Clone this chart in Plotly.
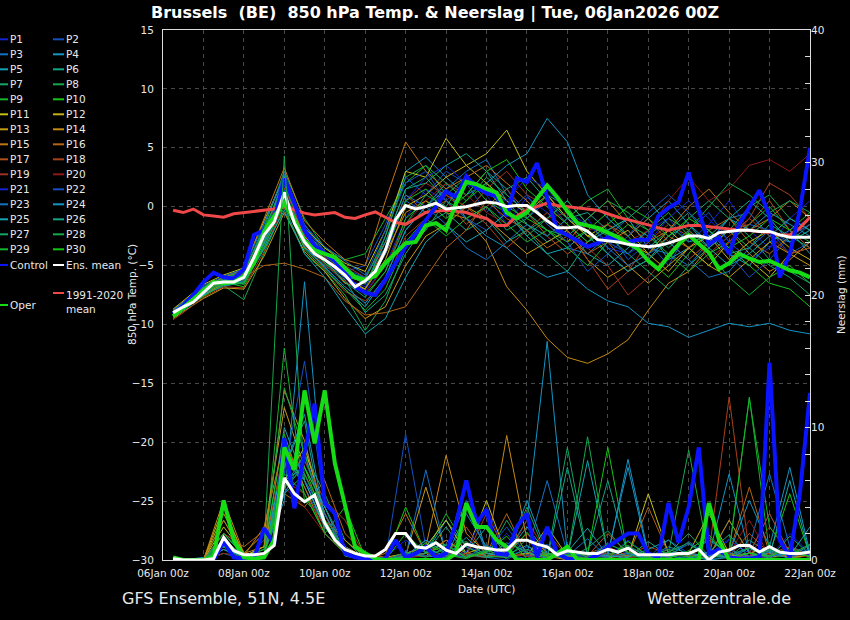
import pandas as pd
import plotly.graph_objects as go

run = pd.Timestamp("2026-01-06 00:00")

# forecast steps: 6-hourly for the highlighted lines, 12-hourly for the members
hours_6h = list(range(6, 385, 6))
hours_12h = [6] + list(range(12, 385, 12))
t6 = [run + pd.Timedelta(hours=h) for h in hours_6h]
t12 = [run + pd.Timedelta(hours=h) for h in hours_12h]

# --- 850 hPa temperature (deg C), 6-hourly ---
ens_mean_t = [-9.0, -8.5, -8.1, -7.3, -6.5, -6.4, -6.4, -6.0,
              -4.3, -2.4, -1.3, 1.2, -1.4, -3.0, -4.0, -4.5,
              -5.1, -5.8, -6.8, -6.3, -5.5, -3.7, -1.1, 0.1,
              -0.2, 0.0, 0.3, -0.2, -0.1, 0.0, 0.2, 0.4,
              0.3, 0.0, 0.1, 0.1, -0.5, -1.2, -1.8, -1.8,
              -1.7, -2.1, -2.8, -2.9, -3.0, -3.2, -3.3, -3.4,
              -3.3, -3.1, -2.8, -2.5, -2.5, -2.7, -2.2, -2.1,
              -2.0, -2.0, -2.1, -2.1, -2.4, -2.6, -2.6, -2.6]
control_t = [-9.1, -8.4, -7.5, -6.4, -5.6, -6.0, -6.1, -5.3,
             -2.4, -2.0, -1.2, 2.4, 0.3, -2.0, -3.3, -4.0,
             -4.6, -5.6, -6.8, -7.3, -7.5, -6.2, -4.8, -3.4,
             -2.3, -1.2, 0.0, 1.3, 0.8, 2.6, 1.6, 1.2,
             0.9, -0.8, 2.4, 2.1, 3.7, 0.8, -2.0, -2.4,
             -2.9, -3.4, -3.1, -2.6, -2.9, -3.0, -2.8, -2.8,
             -0.8, -0.1, 0.4, 2.9, -0.3, -3.2, -2.6, -4.0,
             -1.5, 0.0, 1.4, -0.8, -6.0, -4.0, -0.3, 5.0]
oper_t = [-9.3, -8.6, -7.9, -7.1, -6.4, -6.5, -6.4, -5.9,
          -4.8, -2.1, -0.8, 0.3, -1.2, -2.9, -3.7, -4.0,
          -4.3, -5.2, -6.0, -6.2, -5.9, -4.8, -4.0, -3.1,
          -3.0, -1.6, -1.4, -2.0, 0.3, 2.1, 1.9, 1.5,
          1.2, -0.5, -1.0, -0.5, 0.7, 1.8, 0.8, -0.4,
          -1.4, -1.6, -1.8, -2.2, -2.6, -3.1, -3.6, -4.6,
          -5.3, -4.2, -3.2, -2.4, -3.2, -3.9, -5.3, -4.8,
          -4.0, -4.4, -4.7, -4.6, -5.0, -5.4, -5.6, -6.0]
clim_t = [-0.3, -0.5, -0.2, -0.7, -0.8, -0.9, -0.6, -0.5,
          -0.4, -0.35, -0.2, 0.0, -0.3, -0.55, -0.7, -0.6,
          -0.5, -0.9, -1.0, -0.7, -0.45, -0.9, -1.35, -1.5,
          -1.0, -0.5, -0.4, -0.3, -0.4, -0.5, -0.8, -1.0,
          -1.6, -1.6, -0.8, -0.3, 0.0, 0.3, 0.1, 0.0,
          -0.1, -0.2, -0.3, -0.6, -0.9, -1.1, -1.3, -1.55,
          -1.8, -2.0, -1.8, -1.6, -1.6, -1.7, -1.85, -1.9,
          -1.95, -2.05, -2.15, -2.2, -2.4, -2.4, -1.8, -0.9]

# --- precipitation (mm), 6-hourly ---
ens_mean_p = [0.1, 0.0, 0.0, 0.0, 0.1, 1.7, 0.7, 0.4,
              0.4, 0.5, 1.1, 6.2, 5.0, 4.4, 4.9, 2.8,
              1.5, 0.8, 0.5, 0.3, 0.3, 0.8, 2.0, 2.0,
              1.0, 0.9, 1.3, 0.75, 0.5, 1.2, 1.0, 0.9,
              0.75, 0.75, 1.5, 1.5, 1.2, 1.0, 0.4, 0.7,
              0.6, 0.5, 0.5, 0.8, 0.6, 0.9, 0.4, 0.4,
              0.4, 0.4, 0.5, 0.5, 0.8, 0.0, 0.6, 0.75,
              1.1, 1.1, 0.6, 1.0, 0.6, 0.5, 0.5, 0.6]
control_p = [0, 0, 0, 0, 0, 1.4, 0.2, 0.1,
             0.1, 2.4, 1.2, 9.2, 3.9, 8.1, 11.8, 4.3,
             3.5, 0.5, 0.2, 0.1, 0.0, 0.1, 1.5, 0.2,
             0.5, 1.0, 0.2, 0.5, 2.8, 6.0, 2.8, 3.8,
             0.5, 0.4, 2.5, 3.5, 0.2, 2.5, 0.5, 0.1,
             0.0, 0.0, 0.4, 1.0, 1.5, 2.0, 2.0, 0.5,
             0.2, 4.3, 1.3, 4.0, 8.5, 0.5, 0.75, 0.2,
             0.1, 0.1, 0.2, 14.9, 1.5, 0.2, 5.0, 12.6]
oper_p = [0.2, 0, 0, 0, 0.2, 4.5, 1.5, 0.2,
          0.1, 0.2, 1.5, 8.5, 6.8, 12.8, 8.8, 12.8,
          7.3, 4.0, 1.0, 0.5, 0.1, 0, 0, 0,
          0, 0, 0, 0, 0.5, 4.3, 2.5, 2.5,
          1.5, 1.0, 0, 0, 0, 0, 0.5, 1.0,
          0, 0, 0, 0, 0, 0, 0, 0,
          0, 0, 0, 0, 0, 4.3, 1.5, 0,
          0, 0, 0, 0, 0, 0, 0, 0]

# --- members P1..P30, 12-hourly: temperature ---
p01_t = [-9.1, -8.4, -7.0, -6.2, -5.6, -2.0, 1.8, -2.6, -4.2, -6.0, -7.2, -5.0, -1.0, 1.5, 0.5, 2.0, 1.0,
         -1.5, 0.8, -0.5, -2.5, -1.0, -3.5, -4.0, -2.0, -1.0, -3.0, -1.5, 0.5, -2.0, -3.5, -1.0, 0.5]
p02_t = [-9.0, -8.6, -7.4, -6.8, -6.3, -3.0, 2.4, -2.0, -4.0, -5.5, -5.0, -1.5, 2.5, 1.0, 3.0, 2.0, -0.5,
         1.5, -1.0, 0.5, -1.5, -3.0, -2.0, -4.5, -3.0, -5.0, -2.0, -0.5, -3.0, -1.5, -2.0, -4.0, -3.0]
p03_t = [-8.8, -8.2, -6.8, -6.0, -5.8, -1.5, 2.6, -1.5, -3.8, -5.2, -6.5, -4.0, 0.5, -0.5, 1.5, 3.0, 4.0,
         1.0, -0.5, -2.0, -3.5, -4.0, -2.5, -1.0, -3.5, -4.0, -5.0, -3.0, -1.0, -0.5, -2.5, -3.0, -1.5]
p04_t = [-9.2, -8.5, -7.2, -6.1, -5.4, -2.2, 2.0, -2.8, -4.8, -6.5, -7.0, -2.5, 3.0, 4.2, 2.5, 1.0, 2.0,
         3.5, 4.5, 7.5, 5.5, 1.0, -1.0, -2.5, -1.0, 0.5, -1.5, -3.0, -1.0, -2.0, -0.5, -1.5, -2.5]
p05_t = [-8.9, -8.3, -7.5, -6.6, -6.4, -3.5, 0.5, -3.5, -5.2, -7.0, -8.5, -6.0, -2.0, 0.0, 2.0, 1.0, 3.0,
         0.5, -1.5, -3.0, -2.0, -4.0, -5.0, -3.5, -2.0, -4.5, -3.5, -2.0, -4.0, -5.0, -3.0, -2.0, -4.0]
p06_t = [-9.3, -8.8, -7.6, -6.5, -6.2, -2.8, 1.0, -3.2, -5.0, -6.2, -9.0, -7.5, -4.0, -1.5, -0.5, -2.0, -1.0,
         -3.0, -2.0, -4.0, -5.5, -3.0, -2.0, -1.0, -3.5, -2.0, -0.5, -2.5, -4.0, -3.5, -1.5, -2.5, -3.5]
p07_t = [-9.0, -8.2, -7.1, -6.3, -6.6, -2.5, 1.5, -2.0, -4.0, -5.6, -6.0, -3.0, 1.5, 2.5, 0.5, -1.0, 0.0,
         -2.0, -1.0, 1.0, 0.0, -2.5, -4.0, -5.5, -4.5, -3.0, -1.0, 0.5, -1.0, -2.5, -4.5, -5.5, -6.5]
p08_t = [-9.4, -8.7, -7.4, -6.7, -7.9, -4.0, 0.0, -4.0, -5.5, -7.5, -10.5, -8.0, -3.5, -2.0, 0.5, -0.5, 1.5,
         0.0, -2.5, -1.0, 0.5, -1.5, -3.0, -4.0, -2.5, -1.0, -2.0, -3.5, -2.0, 0.0, 1.0, -1.0, -2.0]
p09_t = [-9.1, -8.4, -7.0, -6.0, -5.5, -1.8, 3.0, -1.0, -3.5, -4.5, -4.0, -1.0, 2.0, 3.5, 1.0, 2.5, 0.5,
         -0.5, -1.5, -2.5, -1.0, 0.5, 1.5, -1.0, -2.0, -0.5, -2.5, -4.0, -3.0, -1.5, 0.0, -2.0, -3.0]
p10_t = [-9.2, -8.5, -7.3, -6.4, -6.8, -3.2, 0.8, -3.0, -4.8, -6.0, -7.5, -5.5, -1.0, 0.5, -1.0, 0.5, 2.0,
         0.0, -1.0, -2.0, -3.0, -2.0, -0.5, -2.5, -4.5, -6.0, -4.0, -2.0, -3.5, -5.0, -6.5, -7.0, -8.5]
p11_t = [-8.7, -8.0, -6.6, -5.8, -5.2, -1.2, 2.5, -1.8, -3.5, -4.8, -5.5, -2.0, 3.0, 2.5, 5.8, 3.5, 4.5,
         6.5, 3.0, 1.0, -1.0, -2.5, -1.5, -3.0, -4.0, -2.0, -3.5, -5.0, -3.0, -4.5, -6.0, -4.0, -3.5]
p12_t = [-9.0, -8.3, -7.2, -6.3, -6.0, -2.6, 1.2, -2.5, -4.5, -6.0, -7.0, -4.5, 0.0, 1.0, 2.5, 3.5, 2.0,
         0.5, -0.5, 1.0, -1.0, -2.5, -3.0, -2.0, -4.0, -5.5, -3.5, -2.5, -4.5, -3.0, -2.0, -3.5, -4.5]
p13_t = [-9.5, -8.9, -7.8, -6.9, -7.0, -4.2, -0.5, -3.8, -5.5, -7.8, -9.5, -8.5, -5.0, -2.5, -1.5, 0.0, -1.0,
         -2.5, -4.0, -3.0, -2.0, -4.5, -6.0, -5.0, -6.5, -5.0, -3.5, -5.0, -6.0, -4.5, -3.0, -4.0, -5.0]
p14_t = [-9.0, -8.4, -7.5, -6.5, -6.2, -3.0, 1.0, -3.5, -4.5, -6.5, -7.0, -4.0, -0.5, 0.5, -0.5, -1.0, -3.0,
         -6.8, -8.8, -11.2, -12.8, -13.3, -12.5, -11.3, -8.8, -6.5, -5.5, -3.5, -2.0, -4.0, -5.5, -4.5, -3.0]
p15_t = [-8.8, -8.1, -6.9, -6.0, -5.3, -1.0, 3.3, -1.2, -3.0, -4.5, -5.0, 0.5, 5.5, 3.0, 1.5, 2.5, 3.5,
         2.0, 0.5, -1.5, -3.0, -1.0, 0.5, -1.5, -3.0, -2.0, 0.0, 1.5, -0.5, -2.0, -1.0, 0.5, -1.0]
p16_t = [-9.2, -8.6, -7.6, -6.6, -6.0, -5.0, -4.8, -5.3, -6.0, -8.0, -9.2, -9.0, -8.5, -6.0, -3.5, -2.0, 0.5,
         -1.0, -2.0, -3.5, -2.5, -4.0, -3.0, -5.0, -4.0, -2.5, -3.5, -2.0, -1.0, -3.0, -4.0, -2.5, -1.5]
p17_t = [-9.1, -8.5, -7.2, -6.2, -5.7, -2.3, 2.2, -2.2, -4.0, -5.8, -6.5, -3.5, 1.0, -0.5, 0.5, -1.5, 0.0,
         1.5, -0.5, -2.5, -4.0, -3.0, -1.5, -2.5, -1.0, -3.0, -4.5, -3.0, -2.0, -1.5, 0.5, -2.0, -3.5]
p18_t = [-9.6, -9.0, -7.7, -6.8, -6.9, -3.8, 0.3, -3.3, -5.3, -7.2, -8.0, -6.5, -2.5, -1.0, 1.0, 0.0, -1.5,
         -3.5, -2.0, -0.5, -2.0, -4.5, -7.0, -5.5, -3.0, -1.5, -2.5, -4.0, -2.5, -1.0, 2.0, 1.0, -1.0]
p19_t = [-8.9, -8.3, -7.0, -6.1, -5.9, -2.0, 1.6, -2.4, -4.3, -5.0, -6.0, -3.0, 0.5, 2.0, 1.0, -0.5, 1.5,
         3.0, 1.0, 0.0, -1.5, -3.5, -5.0, -7.5, -6.0, -4.0, -2.0, -4.5, -3.0, -1.0, -2.5, -4.0, -3.5]
p20_t = [-9.3, -8.7, -7.4, -6.4, -6.1, -2.9, 0.8, -3.1, -4.9, -6.3, -7.4, -5.0, -1.5, 0.5, 2.0, 1.0, -0.5,
         -1.5, 0.0, -1.0, -0.5, -2.0, -1.5, -3.0, -2.0, 0.5, 2.5, 0.5, 1.5, 3.5, 4.0, 3.0, 4.5]
p21_t = [-9.0, -8.4, -7.1, -6.3, -5.8, -2.5, 1.4, -2.9, -4.6, -6.1, -6.8, -4.0, 0.5, 2.5, 3.5, 2.0, 1.0,
         0.5, 2.5, 1.5, -0.5, -1.5, -3.0, -4.0, -3.0, -1.0, 0.5, -1.0, -3.0, -4.5, -3.5, -2.0, -1.0]
p22_t = [-9.2, -8.6, -7.3, -6.5, -6.3, -2.7, 2.9, -1.8, -3.8, -5.3, -6.0, -2.0, 2.0, 3.0, 0.5, -1.0, -2.0,
         -0.5, 1.0, -1.5, -3.0, -5.5, -4.0, -2.5, -0.5, 1.0, -0.5, -2.0, -4.0, -6.0, -4.5, -2.5, -1.5]
p23_t = [-8.8, -8.1, -6.7, -5.9, -5.3, -1.4, 2.7, -1.6, -3.4, -4.6, -5.8, -3.5, 1.0, 0.0, -1.5, -3.5, -4.5,
         -3.0, -1.5, -2.5, -1.0, -2.0, -3.5, -5.0, -4.0, -3.0, -4.5, -6.0, -5.5, -3.5, -2.0, -3.0, -2.0]
p24_t = [-9.1, -8.5, -7.4, -6.4, -6.1, -3.1, 0.6, -3.4, -5.1, -6.8, -8.2, -6.0, -2.0, 0.0, 1.5, -1.0, -2.5,
         -3.5, -5.0, -6.0, -5.5, -7.0, -8.0, -8.5, -9.9, -10.2, -11.1, -10.5, -9.9, -10.2, -9.9, -10.5, -10.8]
p25_t = [-9.4, -8.8, -7.5, -6.7, -6.5, -3.6, -0.3, -4.0, -6.0, -8.5, -10.8, -9.5, -6.0, -3.0, -1.5, -3.0, -2.0,
         -0.5, -2.5, -4.0, -3.5, -2.0, -4.0, -5.5, -4.5, -2.5, -1.5, -3.5, -5.0, -4.0, -2.5, -1.0, -2.0]
p26_t = [-9.0, -8.3, -7.1, -6.2, -6.0, -2.1, 2.3, -2.3, -4.1, -5.6, -6.6, -3.0, 1.5, 2.0, 3.5, 4.5, 3.0,
         1.5, 2.5, 0.5, -1.0, -0.5, -2.0, -1.0, 0.5, -1.5, -3.0, -2.5, -1.0, 0.5, -1.0, -3.0, -2.0]
p27_t = [-9.2, -8.6, -7.3, -6.5, -6.4, -2.9, 1.1, -2.7, -4.6, -6.4, -7.7, -5.5, -1.5, 1.0, 0.0, 2.5, 1.5,
         -0.5, -2.0, -1.0, 0.5, -1.5, -2.5, -4.0, -5.5, -7.0, -5.0, -3.5, -2.0, -3.5, -5.0, -6.0, -7.5]
p28_t = [-8.9, -8.2, -6.9, -6.1, -5.6, -1.9, 1.9, -2.1, -3.9, -5.4, -6.2, -2.5, 2.5, 3.5, 2.0, 0.5, 2.5,
         1.0, -0.5, -2.0, -2.5, -1.0, 0.5, -0.5, -2.0, -3.5, -2.0, 0.0, 2.0, 1.0, -0.5, 0.5, -0.5]
p29_t = [-9.3, -8.7, -7.6, -6.6, -6.5, -3.4, 0.4, -3.6, -5.4, -7.0, -8.8, -7.0, -3.0, -1.0, -2.5, -1.0, 0.0,
         -1.5, -3.0, -2.0, -3.5, -5.0, -3.0, -1.5, -2.5, -4.0, -5.5, -4.0, -6.0, -7.5, -6.0, -5.0, -6.5]
p30_t = [-9.0, -8.4, -7.2, -6.3, -5.9, -2.4, 1.3, -2.8, -4.4, -5.9, -6.4, -3.8, 0.5, 1.5, -0.5, 1.0, 3.0,
         4.0, 1.5, 0.0, -1.5, -3.0, -1.5, 0.0, -1.0, -2.5, -1.0, -2.0, -3.5, -2.5, -1.0, -2.0, -0.5]

# --- members P1..P30, 12-hourly: precipitation ---
p01_p = [0, 0, 0, 1.0, 0.2, 0.5, 6.5, 9.0, 3.0, 0.5, 0, 0.2, 1.5, 0.5, 0.2, 1.0, 0.5,
         2.0, 0.3, 0, 0.5, 0, 0.2, 1.5, 0.3, 0, 0.5, 0.2, 1.5, 0.5, 0.2, 2.0, 0.5]
p02_p = [0, 0, 0, 0.5, 0, 1.5, 5.0, 7.5, 4.0, 1.0, 0.1, 0, 9.5, 1.0, 3.0, 0.5, 0.2,
         0, 1.0, 0.5, 0, 0.3, 1.0, 0, 0.2, 1.5, 0.5, 0, 0.3, 0.5, 3.5, 0.5, 0.2]
p03_p = [0, 0, 0, 2.0, 0.5, 0.2, 8.0, 5.5, 2.5, 0.5, 0, 0, 0.3, 1.5, 0.5, 4.5, 0.5,
         0.2, 0.5, 6.0, 0.5, 0.2, 0, 1.0, 0.3, 0, 0.2, 0.5, 0.2, 1.0, 6.5, 1.0, 0.5]
p04_p = [0, 0, 0.2, 1.5, 0.3, 0.5, 4.5, 21.0, 4.0, 1.0, 0.2, 0, 0.5, 0.3, 0.2, 3.5, 1.0,
         0.5, 3.0, 16.5, 0.5, 0.2, 0.5, 7.0, 0.3, 0.2, 0.5, 1.5, 0.5, 4.5, 1.0, 7.0, 0.5]
p05_p = [0, 0, 0, 0.8, 0, 0.3, 10.0, 6.0, 3.5, 0.3, 0, 0, 0.2, 0.5, 3.0, 1.0, 0.3,
         0.5, 2.5, 0.5, 0.2, 7.5, 0.5, 0, 0.2, 0.5, 0.3, 0, 0.2, 0.5, 1.0, 0.3, 2.5]
p06_p = [0, 0, 0, 1.2, 0.2, 0.8, 7.0, 10.5, 2.0, 0.5, 0, 0.1, 0.3, 0.5, 0.2, 0.5, 2.5,
         0.3, 0, 0.5, 0.2, 0.5, 6.0, 0.3, 0.2, 1.0, 0.5, 0.2, 3.0, 0.5, 0.3, 0.5, 0.2]
p07_p = [0, 0, 0, 1.0, 0.3, 0.5, 5.5, 8.0, 5.0, 1.5, 0, 0, 0.2, 0.3, 1.5, 0.5, 0.2,
         3.0, 0.5, 0.2, 8.5, 0.3, 0.5, 0.2, 0.3, 0.5, 2.0, 0.3, 0.2, 1.5, 0.5, 0.2, 0.3]
p08_p = [0, 0, 0, 0.5, 0.2, 1.0, 30.5, 6.0, 2.5, 0.5, 0, 0, 0.2, 0.5, 0.3, 0.2, 0.5,
         0.3, 4.0, 0.2, 0.5, 0.3, 0.2, 0.5, 0.3, 0.5, 8.3, 0.2, 0.3, 0.5, 0.2, 0.3, 0.5]
p09_p = [0, 0, 0, 3.0, 0.5, 0.3, 16.0, 4.5, 3.0, 0.5, 0, 0.1, 0.3, 0.5, 3.5, 1.0, 0.2,
         0.5, 0.3, 0.2, 0.5, 0.3, 0.5, 0.2, 0.3, 0.5, 0.2, 0.3, 0.5, 12.3, 0.5, 0.3, 0.5]
p10_p = [0.2, 0, 0, 2.0, 0.3, 0.8, 9.5, 5.0, 2.0, 4.0, 0.2, 0, 2.0, 0.5, 0.3, 0.5, 0.2,
         0.3, 0.5, 0.2, 0.3, 0.5, 8.5, 0.3, 0.2, 0.5, 0.3, 0.2, 0.5, 0.3, 0.5, 5.0, 0.3]
p11_p = [0, 0, 0, 2.5, 0.5, 0.3, 6.0, 8.5, 3.5, 0.5, 0, 0, 0.5, 1.0, 3.0, 0.5, 4.5,
         0.3, 0.5, 1.0, 0.3, 0.5, 0.2, 0.3, 5.0, 0.5, 0.3, 0.5, 0.3, 0.5, 1.0, 0.3, 0.5]
p12_p = [0, 0, 0, 4.0, 0.3, 1.0, 7.5, 6.0, 2.5, 0.5, 0, 0.2, 0.5, 0.3, 1.5, 0.5, 1.0,
         0.5, 0.3, 2.5, 0.3, 0.5, 0.5, 0.3, 0.5, 0.2, 0.5, 3.5, 0.5, 0.3, 0.2, 0.5, 0.3]
p13_p = [0, 0, 0, 3.5, 0.5, 2.0, 11.5, 7.0, 4.0, 1.0, 0.2, 0, 0.3, 5.5, 0.5, 0.3, 0.5,
         0.3, 0.5, 0.3, 0.2, 0.5, 0.3, 0.5, 0.2, 0.5, 0.3, 0.2, 0.5, 0.3, 0.5, 0.2, 0.3]
p14_p = [0, 0, 0, 4.5, 0.5, 1.0, 12.8, 9.0, 3.0, 1.5, 0.2, 0, 0.5, 1.0, 7.9, 2.0, 0.5,
         9.4, 1.5, 0.3, 0, 0, 0, 0, 0.2, 0.5, 0.3, 0.5, 0.2, 0.3, 0.5, 0.2, 0.3]
p15_p = [0, 0, 0, 3.0, 0.3, 2.5, 9.0, 5.5, 2.0, 0.5, 0, 0.5, 3.5, 0.5, 0.3, 0.5, 0.3,
         0.5, 2.0, 0.5, 0.3, 0.5, 1.0, 0.3, 0.5, 0.3, 0.5, 0.3, 3.0, 0.5, 0.3, 0.5, 0.3]
p16_p = [0, 0, 0, 2.0, 1.0, 2.2, 5.0, 4.0, 6.0, 2.0, 0.5, 0.2, 0.3, 0.5, 1.5, 0.3, 0.5,
         3.5, 0.3, 0.5, 0.3, 0.2, 0.5, 0.3, 4.0, 0.5, 0.3, 0.2, 0.5, 5.5, 0.5, 0.3, 0.5]
p17_p = [0, 0, 0, 1.5, 0.3, 0.5, 8.5, 6.5, 3.5, 0.5, 0, 0, 0.3, 0.5, 0.3, 2.5, 0.3,
         0.5, 0.3, 0.5, 0.2, 0.3, 2.0, 0.5, 0.3, 0.5, 0.3, 0.5, 0.3, 2.0, 0.5, 1.0, 0.3]
p18_p = [0, 0, 0, 1.0, 0.5, 0.3, 7.0, 7.5, 4.5, 3.0, 0.3, 0, 0.5, 0.3, 0.5, 0.3, 3.5,
         0.5, 0.3, 2.0, 0.3, 0.5, 0.3, 0.5, 1.0, 0.5, 0.3, 0.5, 12.3, 0.5, 3.5, 0.5, 0.3]
p19_p = [0, 0, 0, 0.8, 0.3, 0.5, 6.0, 5.0, 2.5, 0.5, 0, 0, 0.3, 0.5, 0.3, 0.5, 0.3,
         0.2, 3.0, 0.5, 0.3, 0.5, 0.3, 0.2, 0.5, 0.3, 0.5, 0.3, 0.5, 0.3, 2.5, 0.5, 0.3]
p20_p = [0, 0, 0, 0.5, 0.2, 0.3, 5.5, 4.0, 2.0, 0.5, 0, 0, 0.2, 0.3, 0.5, 0.3, 0.2,
         0.5, 0.3, 0.2, 0.5, 0.3, 0.5, 0.2, 0.3, 0.5, 0.3, 0.2, 0.5, 3.0, 0.3, 0.5, 0.2]
p21_p = [0, 0, 0, 1.0, 0.2, 0.5, 7.5, 6.0, 3.0, 0.5, 0, 0, 0.3, 0.9, 0.2, 0.6, 4.0,
         0.3, 0.8, 0.1, 0.5, 0.2, 1.3, 0.4, 0.2, 0.9, 0.1, 0.4, 1.6, 0.3, 0.2, 0.7, 0.4]
p22_p = [0, 0, 0, 1.5, 0.3, 0.5, 6.5, 15.0, 4.0, 1.0, 0, 0, 0.5, 0.3, 0.9, 0.2, 0.6,
         2.5, 0.3, 1.2, 0.1, 0.4, 0.2, 0.9, 0.5, 0.2, 1.4, 0.3, 0.6, 0.1, 0.8, 0.3, 0.6]
p23_p = [0, 0, 0, 1.5, 0.3, 0.5, 5.0, 8.0, 3.5, 0.5, 0, 0, 0.3, 6.8, 0.5, 0.2, 1.1,
         0.4, 0.1, 0.9, 0.3, 1.6, 0.2, 0.5, 0.1, 0.4, 1.2, 0.3, 0.8, 0.2, 0.6, 0.1, 0.9]
p24_p = [0, 0, 0, 1.0, 0.3, 0.5, 7.0, 11.0, 3.0, 0.5, 0, 0, 0.3, 1.5, 0.5, 6.0, 0.5,
         0.3, 4.5, 0.5, 0.3, 0.5, 0.3, 7.6, 0.5, 0.3, 0.5, 0.3, 6.5, 0.5, 0.3, 0.5, 0.3]
p25_p = [0, 0, 0, 0.8, 0.2, 0.3, 8.0, 6.0, 2.5, 0.5, 0, 0, 0.1, 0.9, 0.3, 1.7, 0.2,
         0.4, 1.1, 0.1, 0.6, 2.4, 0.3, 0.2, 0.8, 1.5, 0.2, 0.6, 0.1, 0.9, 0.3, 6.0, 0.3]
p26_p = [0, 0, 0, 1.5, 0.3, 0.5, 6.0, 7.0, 4.0, 0.5, 0, 0, 0.3, 0.5, 2.5, 0.4, 0.2,
         1.3, 0.6, 0.1, 7.0, 0.3, 0.8, 0.2, 1.4, 0.3, 0.1, 0.6, 1.9, 0.2, 0.7, 0.3, 1.1]
p27_p = [0, 0, 0, 1.0, 0.2, 0.5, 5.0, 6.5, 3.0, 0.5, 0, 0, 0.3, 0.8, 1.2, 0.2, 0.8,
         0.1, 1.6, 0.4, 0.1, 0.9, 2.2, 0.4, 0.1, 0.6, 1.3, 0.2, 0.4, 0.9, 0.1, 1.8, 0.4]
p28_p = [0, 0, 0, 2.0, 0.3, 0.5, 13.0, 8.0, 3.0, 0.5, 0, 0, 0.6, 0.2, 0.9, 1.4, 0.3,
         0.2, 0.8, 0.4, 0.2, 9.3, 0.4, 1.1, 0.2, 0.6, 0.2, 1.7, 0.3, 0.1, 0.8, 0.4, 1.2]
p29_p = [0, 0, 0, 1.5, 0.3, 0.5, 6.5, 5.0, 2.0, 0.5, 0, 0, 0.2, 1.3, 0.4, 0.1, 0.7,
         0.3, 2.1, 0.2, 0.4, 0.1, 1.2, 0.6, 0.2, 0.8, 0.3, 0.1, 0.7, 12.2, 2.5, 0.5, 0.3]
p30_p = [0, 0, 0, 1.0, 0.3, 0.5, 5.5, 7.0, 3.0, 0.5, 0, 0, 4.0, 0.5, 1.1, 0.2, 0.6,
         1.8, 0.1, 0.4, 0.9, 0.2, 0.1, 1.4, 0.3, 0.1, 0.7, 1.9, 0.2, 0.5, 0.3, 0.9, 0.2]

member_temp = [p01_t, p02_t, p03_t, p04_t, p05_t, p06_t, p07_t, p08_t, p09_t, p10_t,
               p11_t, p12_t, p13_t, p14_t, p15_t, p16_t, p17_t, p18_t, p19_t, p20_t,
               p21_t, p22_t, p23_t, p24_t, p25_t, p26_t, p27_t, p28_t, p29_t, p30_t]
member_prec = [p01_p, p02_p, p03_p, p04_p, p05_p, p06_p, p07_p, p08_p, p09_p, p10_p,
               p11_p, p12_p, p13_p, p14_p, p15_p, p16_p, p17_p, p18_p, p19_p, p20_p,
               p21_p, p22_p, p23_p, p24_p, p25_p, p26_p, p27_p, p28_p, p29_p, p30_p]
member_names = [f"P{i}" for i in range(1, 31)]

# blue -> green for P1-P10 (and again P21-P30), yellow -> dark red for P11-P20
cold_cols = ["#1424d2", "#1450c0", "#1472c4", "#1494c4", "#14a4b0",
             "#14a484", "#14a464", "#14a84c", "#14b42c", "#14c414"]
warm_cols = ["#c4c014", "#c4b014", "#c49c14", "#c48a14", "#c07614",
             "#b46414", "#b0501c", "#a8401c", "#a03020", "#901818"]
member_colors = cold_cols + warm_cols + cold_cols

CONTROL_COL = "#0a14ff"
OPER_COL = "#16dc16"
MEAN_COL = "#ffffff"
CLIM_COL = "#f04848"
GRID = "#484848"
FG = "#e8e8e8"

fig = go.Figure()

for name, tt, pp, col in zip(member_names, member_temp, member_prec, member_colors):
    fig.add_trace(go.Scatter(x=t12, y=tt, mode="lines", name=name,
                             line=dict(color=col, width=1)))
    fig.add_trace(go.Scatter(x=t12, y=pp, mode="lines", name=name, yaxis="y2",
                             line=dict(color=col, width=1)))

fig.add_trace(go.Scatter(x=t6, y=clim_t, mode="lines", name="1991-2020 mean",
                         line=dict(color=CLIM_COL, width=3)))
for yy, ax in [(control_t, "y"), (control_p, "y2")]:
    fig.add_trace(go.Scatter(x=t6, y=yy, mode="lines", name="Control", yaxis=ax,
                             line=dict(color=CONTROL_COL, width=4)))
for yy, ax in [(oper_t, "y"), (oper_p, "y2")]:
    fig.add_trace(go.Scatter(x=t6, y=yy, mode="lines", name="Oper", yaxis=ax,
                             line=dict(color=OPER_COL, width=4)))
for yy, ax in [(ens_mean_t, "y"), (ens_mean_p, "y2")]:
    fig.add_trace(go.Scatter(x=t6, y=yy, mode="lines", name="Ens. mean", yaxis=ax,
                             line=dict(color=MEAN_COL, width=3)))

# plot area in pixels: x 163..810, y 30..560
L, R, T, B = 163, 810, 30, 560


def px(x):
    return (x - L) / (R - L)


def py(y):
    return (B - y) / (B - T)


# hand-made legend left of the plot, two columns
shapes = []
annotations = []
for i, (name, col) in enumerate(zip(member_names, member_colors)):
    row, colno = divmod(i, 2)
    y = 39.3 + 15 * row
    x0, x1 = (0, 8) if colno == 0 else (53, 64)
    shapes.append(dict(type="line", xref="paper", yref="paper", x0=px(x0), x1=px(x1),
                       y0=py(y), y1=py(y), line=dict(color=col, width=2)))
    annotations.append(dict(xref="paper", yref="paper", x=px(x1), y=py(y), text=name,
                            showarrow=False, xanchor="left", yanchor="middle",
                            font=dict(size=10.5, color=FG)))

extra = [("Control", CONTROL_COL, 0, 8, 265), ("Ens. mean", MEAN_COL, 53, 64, 265),
         ("Oper", OPER_COL, 0, 8, 305), ("1991-2020<br>mean", CLIM_COL, 53, 64, 293)]
for name, col, x0, x1, y in extra:
    shapes.append(dict(type="line", xref="paper", yref="paper", x0=px(x0), x1=px(x1),
                       y0=py(y), y1=py(y), line=dict(color=col, width=2)))
    if "<br>" in name:
        annotations.append(dict(xref="paper", yref="paper", x=px(x1), y=py(y - 6), text=name,
                                showarrow=False, xanchor="left", yanchor="top", align="left",
                                font=dict(size=10.5, color=FG)))
    else:
        annotations.append(dict(xref="paper", yref="paper", x=px(x1), y=py(y), text=name,
                                showarrow=False, xanchor="left", yanchor="middle",
                                font=dict(size=10.5, color=FG)))

# axis titles and footer
annotations += [
    dict(xref="paper", yref="paper", x=px(132), y=0.5, text="850 hPa Temp. (°C)",
         textangle=-90, showarrow=False, xanchor="center", yanchor="middle",
         font=dict(size=10.5, color=FG)),
    dict(xref="paper", yref="paper", x=px(841), y=0.5, text="Neerslag (mm)",
         textangle=-90, showarrow=False, xanchor="center", yanchor="middle",
         font=dict(size=10.5, color=FG)),
    dict(xref="paper", yref="paper", x=px(486), y=py(589), text="Date (UTC)",
         showarrow=False, xanchor="center", yanchor="middle", font=dict(size=10.5, color=FG)),
    dict(xref="paper", yref="paper", x=px(120), y=py(598), text="GFS Ensemble, 51N, 4.5E",
         showarrow=False, xanchor="left", yanchor="middle", font=dict(size=16, color=FG)),
    dict(xref="paper", yref="paper", x=px(793), y=py(598), text="Wetterzentrale.de",
         showarrow=False, xanchor="right", yanchor="middle", font=dict(size=16, color=FG)),
]

fig.update_layout(
    width=850, height=620,
    margin=dict(l=L, r=850 - R, t=T, b=620 - B),
    paper_bgcolor="black", plot_bgcolor="black",
    font=dict(family="DejaVu Sans", color=FG, size=10.5),
    showlegend=False,
    title=dict(text="<b>Brussels\u00a0 (BE)\u00a0 850 hPa Temp. &amp; Neerslag | Tue, 06Jan2026 00Z</b>",
               x=435 / 850, xanchor="center", y=1 - 12 / 620, yanchor="middle",
               font=dict(size=16, color="white")),
    xaxis=dict(type="date", range=[run, run + pd.Timedelta(days=16)],
               tick0=run, dtick=2 * 86400000, tickformat="%d%b %Hz",
               showgrid=True, gridcolor=GRID, griddash="4px,4px", gridwidth=1,
               minor=dict(dtick=86400000, showgrid=True, gridcolor=GRID, griddash="4px,4px"),
               showline=True, linecolor="#dcdcdc", linewidth=1, mirror=True,
               ticks="", ticklabelstandoff=3, zeroline=False),
    yaxis=dict(range=[-30, 15], dtick=5, showgrid=True, gridcolor=GRID, griddash="4px,4px",
               showline=True, linecolor="#dcdcdc", linewidth=1, mirror=True,
               ticks="", ticklabelstandoff=6, zeroline=False),
    yaxis2=dict(overlaying="y", side="right", range=[0, 40], dtick=10, showgrid=False,
                ticks="inside", ticklen=5, tickcolor="#dcdcdc",
                minor=dict(dtick=2, ticks="inside", ticklen=5, tickcolor="#dcdcdc"),
                showline=False, zeroline=False),
    shapes=shapes,
    annotations=annotations,
)

# the page is photographed from its top-left corner, so drop the default body margin
fig.write_html("out.html", config={"displayModeBar": False},
               post_script="document.body.style.margin = '0px';")
